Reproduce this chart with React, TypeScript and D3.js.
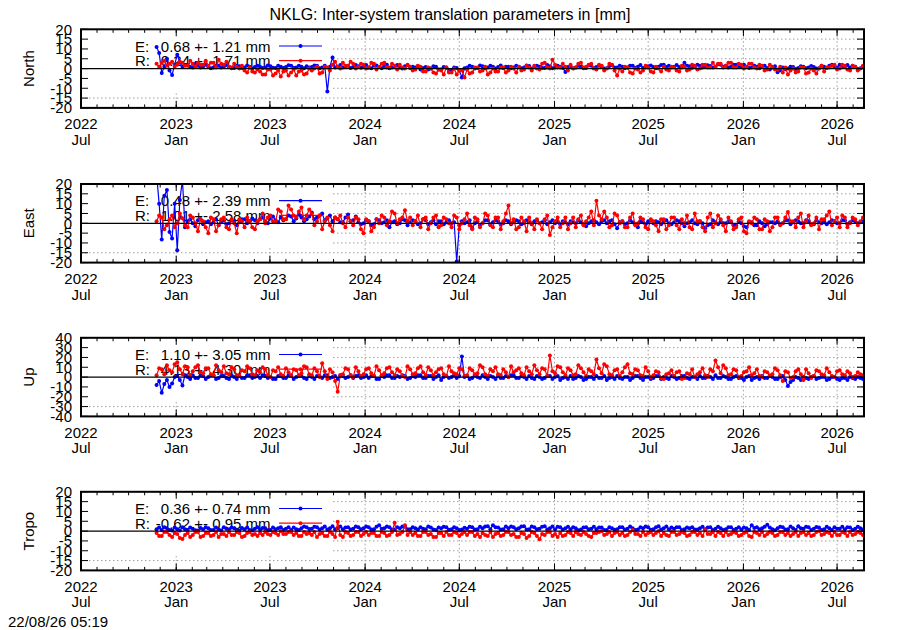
import React from 'react';
import * as d3 from 'd3';

// readings every 10 days from START, plus the readings 5 days later (…Mid)
const START = '2022-11-24';
const STEP_DAYS = 5;

const northE = [
  11, -2.3, 5, -3.2, 7, 1, 2, 0.5, 1.5, 1,
  1, 0.5, 1.5, 0.8, 1, 0.3, 1.2, 0.5, 1, 0.8,
  1, 0.5, 1.2, 0.3, 1, 0.8, 1.5, 0.5, 1, 1.2,
  0.8, 1.5, 0.5, -11.7, 5.7, 1, 0.5, 1.5, 0.8, 1.2,
  1, 0.5, 1.5, 0.8, 1.3, 0.2, 1, 0.5, 1.2, 0.3,
  0.5, -0.5, 0.8, 0, 1, -0.3, 0.5, -1, 0.3, -4.5,
  0.5, 1, 0.3, 1.2, 0.5, 1, 0.8, 0.2, 1, 0.5,
  1, 0.5, 1.3, 0.8, 1, 0.3, 1.2, 0.6, 1, -1.7,
  1.2, 0.5, 1, 0.3, 1.5, 0.8, 1, 0.2, 1.7, 0.6,
  1, 0.5, 1.5, 1, 0.3, 1.2, 0.8, 1, 2, 1.5,
  1, 0.8, 3, 1.2, 1, 1.5, 0.8, 1.3, 1, 2,
  1.5, 1, 2, 1.2, 1, 0.5, 1, 0.8, 0.3, 0.5,
  -1.9, 0.5, 0, 0.8, 0.3, 1, 0.5, 0.8, 0.2, 1,
  1.5, 1, 2, 1, 0.5, 1, 0.2,
];
const northEMid = [
  8, 1, -1, 2, 3, 2, 1, 2.5, 0.5, 2,
  0.2, 1.5, 0.5, 1.8, 0.2, 1.5, 0.3, 1.6, 0.2, 1.5,
  0.3, 1.6, 0.4, 1.5, 0.3, 1.7, 0.4, 1.5, 0.2, 0.5,
  1.6, 0.2, 1.4, 1, 0.5, 1.8, 1.2, 0.3, 1.8, 0.4,
  1.8, 0.2, 1.6, 0.2, 1.9, 0.6, 1.8, 0.1, 1.7, 0.9,
  1.2, 0.3, -0.5, 1.2, -0.5, 0.8, -1.2, 0.6, -1, 0.2,
  1.5, 0, 1.6, 0.2, 1.5, 0.1, 1.6, 1, 0.2, 1.4,
  0.2, 1.6, 0.1, 1.5, 0.3, 1.8, 0.2, 1.5, 0.3, 0.8,
  0.2, 1.5, 0.2, 1.6, 0.3, 1.5, 0.1, 1.3, 0.5, 1.4,
  0.2, 1.5, 0.4, 1.8, 0.5, 1.6, 0.2, 1.8, 0.8, 0.6,
  1.8, 0.5, 1.5, 0.4, 1.9, 0.6, 1.7, 0.5, 2.2, 1,
  0.5, 2, 0.8, 1.9, 0.3, 1.5, 0.2, 1.4, -0.5, 1.2,
  -0.8, -0.3, 1, -0.2, 1.2, 0.2, 1.3, 0, 1.4, 0.3,
  2, 0.5, 1.3, 1.8, 1.5, -0.2, 0.8,
];
const northR = [
  2.5, 3, 1.5, 3.5, 2, 3, 1.5, 2.5, 3, 2,
  1.5, 3, 4.5, 2, 1, 2.5, 0, -1, 0.5, -2,
  -1.5, -3, -0.5, -2.5, -4, -1, -2, -3.5, -1, -2.5,
  -1, 1, -2, 0.5, 2, 1, 3, 1.5, 2.5, 1,
  2, 0.5, 2.5, 1, 3, 0.5, 1.5, 2, 0, 1,
  -0.5, 1, -1.5, 0, -2.5, -1, 0.5, -2, -3, -1,
  -0.5, -2, 0.5, -1, -3, 0, -1.5, 0.5, -1, 0,
  1, -0.5, 0.5, 1.5, -0.5, 3, 0, 2, 0.5, 1,
  2, 0.5, 3, 1, 2.5, -0.5, 1.5, 0, 2, -3.5,
  -1.5, 0.5, -2.5, -0.5, -1, 0.5, -2, 0, 1, -1,
  0.5, -1.5, 1, -0.5, 1.5, 0, 2, 0.5, 1, 2.5,
  1.5, 3, 0.5, 2, 1, 2.5, 0, 1.5, -0.5, 1,
  -0.5, -2, -3, 0, -1.5, 0.5, -2, -1, 0, -1.5,
  0.5, 2, 0, 1.5, -1, 1, 0,
];
const northRMid = [
  1, 4, 2.5, 1, 3.5, 1.5, 4, 1, 2, 4,
  3, 0.5, 2.5, 3.5, 0.5, 1, 1.5, -2, -1.5, -0.5,
  -3, -0.5, -3.5, -1, -1.5, -3.5, -0.5, -1.5, -3, 0,
  0, -2.5, 1, -1, 3.5, 0, 1.5, 3.5, 0, 2.5,
  0, 3, -0.5, 2.5, 0.5, 2.5, -0.5, 0.5, 2, -1,
  1.5, -1.5, 0.5, -2, -0.5, -3, -2, 0, -1, -4.5,
  -2.5, 0.5, -1.5, 1, -2, -1.5, 0.5, -2, 1, -2,
  -1, 1.5, -1, 0, 2.5, 0.5, 4.5, 0.5, 2.5, -1,
  0, 2.5, 0.5, 2, 0, 2, -1, 2.5, -1, 0,
  1, -2, 0, -2, 1.5, -1.5, 1, -1.5, -0.5, 1,
  -1, 1.5, -1, 2, -0.5, 2, 0.5, 3, 2.5, 0.5,
  3, 0.5, 2.5, 0, 2.5, 0.5, 2, -1, 2, -0.5,
  1, 0.5, -1, -2, 0.5, -2.5, 0, -2.5, 1.5, 0.5,
  1.5, -0.5, 2, -0.5, 1.5, -1, 1.5,
];
const eastE = [
  25, -8.3, 17, -7.7, -13.7, 22, 1, 0, 1.5, -0.5,
  1, 0.5, -1, 1.5, 0, 1, 0.5, 2, 1, 1.5,
  2, 1, 2.5, 1.5, 3, 2, 3.5, 2.5, 3, 2,
  5.5, 3, 5, 2.5, 1, 2, 0.5, 4.5, 1.5, 0.5,
  0, 1, -0.5, 1.5, 0.5, -2, 1, 0, 1.5, 0.5,
  1, 0, 1.5, 0.5, -0.5, 1, 0.5, 0, -19.5, 1,
  0.5, -2.5, 1, 0, 1.5, 0.5, 1, 0, 1, 0.5,
  1, 0, 0.5, 1, 0, 1.5, 0.5, 0, -0.5, 0.5,
  1, 0, 0.5, -1.5, 1, 0.5, 1, 0, 1.5, -2.5,
  1, 0, 0.5, -2, 0.5, 1, 0, 0.5, 1, 0,
  0.5, 1, -1.5, 0.5, 0, 1, -2.5, -0.5, 0.5, 1,
  0, 0.5, -1, 0, -2, 0.5, -1, 0, -0.5, 0.5,
  1, 0, 1.5, 0.5, 1, 0, 1, -0.5, 0.5, 1,
  0.5, 1, 0, 1.5, 0.5, 1, 0.5,
];
const eastEMid = [
  10, 14, -4.4, 10, 11.8, -2, 2, -1.5, 2, 0.5,
  -0.5, 2, 0.5, -0.5, 1.5, -1, 2, 0, 2.5, 0,
  3, 0, 3.5, 0.5, 1.5, 4, 1, 4.5, 1, 3.5,
  2, 4, 1.5, 4, 3, 0.5, 3, 1, 3.5, -0.5,
  1.5, -1, 2, 0, 1.5, 0.5, -0.5, 2, -1, 1.5,
  -0.5, 2, -0.5, 1.5, 1, -0.5, 1.5, 0.5, -1, 0,
  1.5, 0, -1, 1.5, -0.5, 1.5, -0.5, 1.5, -0.5, 1.5,
  -0.5, 1.5, -0.5, 1.5, 0.5, -0.5, 1.5, 1, 1, -0.5,
  0.5, 1.5, -0.5, 0, 1.5, -0.5, 1.5, 1, -0.5, 0.5,
  -0.5, 1.5, -0.5, 1, -0.5, 1.5, 1, -0.5, 1.5, -0.5,
  1.5, 0, 0, 1.5, -0.5, 0, -1, 1.5, -0.5, 0,
  1, -1, 1, -1.5, 0.5, -1, 1, -1.5, 0.5, 0,
  -0.5, 1.5, -0.5, 1.5, 0, 1.5, -0.5, 1.5, 0, -0.5,
  1.5, 0, 1.5, -0.5, 1.5, 0, 1,
];
const eastR = [
  1, 3, -1, 4, 0, 2.6, -2, 3, -4, 1,
  -5, 2, -1, 3, -3, 0, 2, -2, 1, -3,
  2, 0, 4, 1, 6, 2, 7, 3, 8, 4,
  5, 1, -3, 3, -4, 2, 0, 3, -1, 2,
  -5, 1, -2, 0, 3, 1, 5, 2, 6.7, 3,
  1, -2, 3, 0, 4, -1, 2, -2, 3, 0,
  5, -3, 2, 0, 4, -2, 3, 1, 9, 2,
  -2, 1, 3, -3, 0, 2, -6, 1, -2, 3,
  0, -2, 4, 1, 6, 11.5, 2, 3, -1, 4,
  1, -2, 5, 0, 2, -3, 1, -4, 2, -1,
  3, -3, 0, -2, 5, 1, -4, 5, 0, 2,
  -4, 1, -2, 3, -5, 0, 2, -3, 1, -2,
  3, 0, 5.7, 1, 3, -2, 4, 0, -3, 2,
  6, 1, -2, 3, 0, 2, 1,
];
const eastRMid = [
  4, -3, 2, -2, 5, -1, 4, 0, 2, -2,
  3, -4, 2, -2, 2, -5, 1, 3, -2, 1,
  5, 3, 1, 7, 2, 9, 4, 6, 2, 7,
  -1, 4, 1, -1, 3, 4, -2, 1, 3, -3,
  2, -4, 2, 4, -1, 6, 0, 3, 1, -1,
  4, 2, -3, 3, -2, 3, 0, 4, -3, 2,
  -1, 3, -2, 5, -1, 3, -3, 5, 0, -3,
  3, -4, 0, 2, -3, 4, -2, 3, 0, -3,
  3, 2, -1, 3, -1, 4, 6, -2, 5, 0,
  -2, 3, -1, 3, -2, 2, -1, 2, -3, 3,
  -1, 2, 4, -3, 1, -2, 3, -2, 4, -1,
  3, -3, 2, -4, 1, 3, -3, 2, -4, 3,
  -1, 3, 1, -2, 5, 1, -1, 3, 2, 4,
  -1, 3, 4, -2, 3, -1, 3,
];
const upE = [
  -8, -16, -3, -6.5, 1, -8.5, 0, 2, -1, 1,
  0, 2, -1, 1, -2, 0, 1, -1, 2, 0,
  -1, 1, 0, -2, 1, -1, 2, 0, 1, -2,
  0, 1, -1, 2, 0, -2, 1, 0, -1, 2,
  0, -1, 1, -2, 0, 2, -1, 0, 1, -1,
  0, 2, -1, 1, 0, -3, 1, 0, -1, 21,
  1, -1, 0, 2, -2, 0, 1, -1, 0, 2,
  -1, 0, 1, -2, 0, -1, 1, 0, -3, 0,
  1, -1, 0, -2, 0, 1, -1, -3, 0, 1,
  -2, 0, -1, 1, -3, 0, -1, 1, 0, -2,
  0, -1, 1, -2, 0, 1, -1, 0, 2, -1,
  0, -2, 1, -1, 0, -3, 0, 1, -1, 0,
  -2, 1, -9, -3, -1, 0, -2, 1, -1, 0,
  -2, 0, -3, -1, 0, -2, -1,
];
const upEMid = [
  -4, -7, -10, 0, -3, 2, -2, -1, 2, -2,
  2, -2, 1, -1, 2, -2, -1, 2, -1, 1,
  2, -1, -2, 1, -1, 2, -2, 1, -1, 1,
  -2, 1, 2, -1, 1, 2, -1, 2, 1, -1,
  2, 1, -2, 1, 2, -1, 1, 2, -2, 1,
  2, -1, 1, -2, 2, 0, -1, 2, 1, 0,
  -2, 2, -1, 0, 1, -2, -1, 1, 2, -1,
  1, -2, -1, 1, -2, 1, -2, 1, -1, -2,
  -2, 1, -3, 0, -2, -1, 1, -1, -2, -1,
  0, -3, 1, -1, 0, -2, 1, -2, -1, 1,
  -2, 1, -1, 0, -2, -1, 1, -2, -1, 1,
  -2, 0, -1, -3, 1, -1, -2, -1, 1, -2,
  0, -3, -5, 0, -3, -1, 0, -2, 0, -3,
  0, -2, -1, -3, -1, 0, -2,
];
const upR = [
  2, 8, 12, 5, 15, 3, 10, 6, 12, 4,
  9, 2, 7, 11, 3, 8, 1, 6, 9, 2,
  5, 8, 0, 6, 3, 9, 1, 7, 4, 10,
  2, 6, 14, -2, 5, -15, 3, 8, 0, 6,
  3, 9, 1, 7, 4, 10, 2, 6, 0, 8,
  4, 11, 2, 7, 5, 9, 1, 6, 3, 8,
  2, 7, 4, 10, 1, 6, 3, 8, 0, 5,
  9, 2, 6, 12, 3, 8, 22, 4, 10, 2,
  7, 3, 9, 1, 6, 18, 4, 11, 2, 8,
  5, 13, 3, 7, 1, 6, 2, 5, -2, 4,
  1, 6, -1, 3, 0, 5, 2, 8, 17, 4,
  9, 3, 7, 1, 6, 2, 8, 0, 5, 3,
  7, -4, 5, 0, 8, -3, 4, 1, 6, 2,
  5, 0, 7, 2, 4, 1, 3,
];
const upRMid = [
  9, 3, 7, 13, 8, 11, 2, 10, 5, 9,
  3, 12, 5, 4, 10, 2, 7, 11, 3, 7,
  10, 2, 7, 10, 1, 5, 8, 2, 11, 3,
  9, 0, 6, 8, -4, 2, 9, 2, 10, 1,
  8, 4, 11, 2, 9, 5, 8, 1, 11, 3,
  9, 5, 10, 2, 8, 3, 11, 4, 9, 1,
  9, 3, 12, 3, 8, 10, 2, 5, 11, 7,
  4, 10, 3, 7, 9, 1, 6, 11, 5, 9,
  2, 12, 5, 8, 3, 9, 13, 3, 7, 1,
  10, 4, 8, 2, 10, 0, 6, -1, 3, 7,
  5, -2, 4, 8, 3, 9, 0, 6, 10, 12,
  2, 8, 0, 5, 10, 4, 1, 6, 2, 9,
  2, 6, -1, 6, 3, 8, -1, 7, 3, 9,
  1, 6, 3, 6, 0, 5, 2,
];
const tropoE = [
  1, 0.5, 1.5, 0.3, 1, 2, 0.5, 1.2, 0.3, 1,
  1.5, 0.5, 1, 2, 0.8, 1.5, 0.3, 1, 0.5, 1.2,
  0.8, 1.5, 0.5, 1, 2, 1.2, 0.5, 1, 1.5, 2,
  1.2, 2, 1.5, 0.8, 2.5, 1.5, 1, 2, 1.2, 2,
  1.5, 2, 1, 3, 1.5, 2, 0.8, 1.5, 2.2, 1,
  1.5, 2, 1, 1.8, 0.5, 1.5, 2, 1, 1.5, 0.8,
  1.2, 2, 1, 1.5, 2.5, 3, 1.8, 1, 1.5, 2,
  1.5, 2.5, 1, 2, 1.2, 2.5, 1.5, 1, 2, 1.5,
  1, 1.5, 0.8, 2, 1.2, 1, 1.8, 0.5, 1.5, 1,
  2, 1.2, 1.5, 0.8, 1.5, 2, 1, 2.5, 1.5, 1,
  1.2, 2, 1, 1.5, 0.8, 1.5, 1, 2, 1.2, 1.5,
  1, 2, 1.2, 0.8, 1.5, 3, 2, 1.5, 3.2, 1,
  1.5, 2, 1, 1.5, 2.5, 1.2, 2, 1.2, 1.8, 1,
  1.5, 2, 1.2, 1, 1.8, 1.2, 1.5,
];
const tropoEMid = [
  1.8, 2, 0.5, 1.8, 0.3, 1, 1.8, 0.4, 1.6, 2,
  0.6, 1.8, 0.3, 1.2, 1.8, 0.4, 1.6, 1.8, 0.3, 1.9,
  1.6, 0.4, 1.8, 1.5, 0.6, 2, 1.8, 0.6, 2.3, 1.1,
  2.2, 0.8, 2.4, 1.5, 1, 2.3, 1.8, 0.8, 2.4, 1,
  2.3, 0.8, 2.2, 1.2, 2.4, 0.8, 2, 2.4, 1, 2,
  0.8, 1.2, 2.3, 0.8, 1.8, 2.2, 0.7, 2, 0.6, 1.7,
  2.2, 0.8, 2.2, 2.4, 1, 2, 0.8, 2.3, 2.4, 1,
  2.3, 0.8, 2.4, 0.9, 2.2, 0.8, 2.3, 2.2, 0.8, 2.2,
  2, 0.4, 1.8, 0.9, 2.2, 1.8, 0.6, 2, 0.7, 2,
  0.8, 2.3, 0.6, 2, 2.4, 0.7, 2, 0.8, 2.3, 1.8,
  2, 0.6, 1.8, 2, 0.8, 2.2, 1.8, 0.6, 2.2, 0.6,
  1.9, 0.6, 2, 1.8, 0.6, 1.6, 1, 2.2, 1.8, 0.4,
  2.2, 0.8, 2.4, 0.5, 1.4, 2.2, 0.6, 2.1, 0.6, 2.2,
  0.6, 1.2, 2.2, 2, 0.6, 2.2, 0.8,
];
const tropoR = [
  -1, -2.5, -0.5, -3, -1.5, -4, -1, -2, -0.5, -2.5,
  -1, -2, -3, -1.5, -0.5, -2, -1, -2.5, -0.5, -1.5,
  -1, -0.5, -2, -1, 0, -1.5, -0.5, -1, -2.5, -1.5,
  -2, -3, -1, -2.5, -1.5, 4.7, -3, -1, -2, -0.5,
  -1.5, -2, -1, -2.5, -1, -2, 4.2, -1.5, 3, -0.5,
  -1, -2.5, -0.5, -1.5, -3, -1, -0.5, -2, -1, -1.5,
  -2, -0.5, -1.5, -1, -2.5, -3, -1, -2, -0.5, -1.5,
  -3, -1.5, -2.5, -1, -4.2, -2, -0.5, -1.5, -1, -2,
  -1, -0.5, -2, -1.5, -3, -1, 0, -1.5, -2.5, -0.5,
  -1, -2, 0.5, -1.5, -0.5, -1, -2, 0, -1, -2.5,
  -0.5, -1.5, -1, -2, -0.5, -1, 0.5, -1.5, -2.5, -1,
  -0.5, -1.5, -1, -2, -0.5, -3, -1, -0.5, -1.5, -1,
  -2, -0.5, -1, -1.5, -2.5, -0.5, -1, -2, 0, -1.5,
  -1, -0.5, -2, -1, -0.5, -1.5, -1,
];
const tropoRMid = [
  -2.5, -0.5, -2, -1, -3.5, -2, -3, -0.5, -3, -1,
  -2.5, -0.5, -1.5, -2.5, -2, -0.5, -3, -1, -2, -2.5,
  -2, -1.5, -0.5, -2, -1.5, -0.5, -2, -2.5, -0.5, -1,
  -0.5, -1.5, -2.5, -0.5, -3, -2, -0.5, -2.5, -0.5, -2.5,
  -0.5, -1, -2.5, -0.5, -2.5, -0.5, -2, -0.5, -2, -2,
  -2.5, -0.5, -2, -3, -1, -2.5, -2, -0.5, -2.5, -0.5,
  -0.5, -2.5, -3, -2, -0.5, -1.5, -2.5, -0.5, -2, -3,
  -1, -3.5, -0.5, -2.5, -1.5, -0.5, -2.5, -3, -2.5, -0.5,
  -2.5, -1.5, -0.5, -2.5, -1, -0.5, -2, -0.5, -1, -2,
  -2.5, -0.5, -1.5, -2.5, -2, -0.5, -1, -2.5, -2, -0.5,
  -2, -0.5, -2.5, -0.5, -2, -2.5, -1.5, -0.5, -0.5, -2.5,
  -2, -0.5, -2.5, -1, -2.5, -0.5, -2, -2.5, -0.5, -2.5,
  -0.5, -2, -2.5, -0.5, -1, -2, -2.5, -0.5, -2, -0.5,
  -2.5, -2, -0.5, -2.5, -2, -0.5, -2,
];

const panelNames = ['North', 'East', 'Up', 'Tropo'];
const panelLimits = [20, 20, 40, 20];
const panelTickSteps = [5, 5, 10, 5];
const legendE = ['0.68 +- 1.21 mm', '0.48 +- 2.39 mm', '1.10 +- 3.05 mm', '0.36 +- 0.74 mm'];
const legendR = ['0.24 +- 1.71 mm', '1.01 +- 2.58 mm', '4.13 +- 4.30 mm', '-0.62 +- 0.95 mm'];

const TITLE = 'NKLG: Inter-system translation parameters in [mm]';
const STAMP = '22/08/26 05:19';

// put the 10-day readings and the in-between readings back in time order
const weave = (a: number[], b: number[]) => d3.merge(a.map((v, i) => (b[i] === undefined ? [v] : [v, b[i]])));
const seriesE = [weave(northE, northEMid), weave(eastE, eastEMid), weave(upE, upEMid), weave(tropoE, tropoEMid)];
const seriesR = [weave(northR, northRMid), weave(eastR, eastRMid), weave(upR, upRMid), weave(tropoR, tropoRMid)];

const FONT = '"Liberation Sans", Arial, Helvetica, sans-serif';
const W = 900;
const H = 630;
const LEFT = 81;
const RIGHT = 864;
const PANEL_TOPS = [29.3, 184, 337.8, 491.8];
const PANEL_H = 78.6;
const KEY_RIGHT = 332;

const x = d3.scaleUtc()
  .domain([new Date('2022-07-01T00:00:00Z'), new Date('2026-08-22T00:00:00Z')])
  .range([LEFT, RIGHT]);

const startDate = new Date(START + 'T00:00:00Z');
const dateAt = (i: number) => d3.utcDay.offset(startDate, i * STEP_DAYS);

const majorTicks = x.ticks(d3.utcMonth.every(6)!);
const minorTicks = x.ticks(d3.utcMonth.every(1)!);
const fmtYear = d3.utcFormat('%Y');
const fmtMonth = d3.utcFormat('%b');

const BLUE = '#0000ff';
const RED = '#ff0000';
const GRID = '#a0a0a0';

function Series({ data, y, color }: { data: number[]; y: d3.ScaleLinear<number, number>; color: string }) {
  const line = d3.line<number>()
    .x((_, i) => x(dateAt(i)))
    .y(d => y(d));
  return (
    <g>
      <path d={line(data) || ''} fill="none" stroke={color} strokeWidth={1.2} />
      {data.map((d, i) => (
        <circle key={i} cx={x(dateAt(i))} cy={y(d)} r={2} fill={color} />
      ))}
    </g>
  );
}

function Panel({ idx }: { idx: number }) {
  const top = PANEL_TOPS[idx];
  const bottom = top + PANEL_H;
  const lim = panelLimits[idx];
  const y = d3.scaleLinear().domain([-lim, lim]).range([bottom, top]);
  const yTicks = d3.range(-lim, lim + 0.001, panelTickSteps[idx]);
  const keyBottom = y(-lim * 0.625);
  const clipId = `clip-${idx}`;
  const rowE = top + 16.7;
  const rowR = top + 31.4;

  return (
    <g>
      <defs>
        <clipPath id={clipId}>
          <rect x={LEFT} y={top} width={RIGHT - LEFT} height={PANEL_H} />
        </clipPath>
      </defs>

      {/* grid */}
      {yTicks.filter(t => Math.abs(t) < lim && t !== 0).map(t => (
        <line key={'gy' + t} x1={LEFT} x2={RIGHT} y1={y(t)} y2={y(t)}
          stroke={GRID} strokeWidth={1} strokeDasharray="1.5,2.5" />
      ))}
      {majorTicks.filter(d => x(d) > LEFT + 1 && x(d) < RIGHT - 1).map(d => (
        <line key={'gx' + d.getTime()} x1={x(d)} x2={x(d)} y1={top} y2={bottom}
          stroke={GRID} strokeWidth={1} strokeDasharray="1.5,2.5" />
      ))}

      {/* opaque key */}
      <rect x={LEFT + 1} y={top + 1} width={KEY_RIGHT - LEFT - 1} height={keyBottom - top - 1} fill="#fff" />
      {[legendE[idx], legendR[idx]].map((txt, k) => {
        const ry = k === 0 ? rowE : rowR;
        const col = k === 0 ? BLUE : RED;
        return (
          <g key={k}>
            <text x={135} y={ry + 5.5} fontSize={15}>{k === 0 ? 'E:' : 'R:'}</text>
            <text x={270.5} y={ry + 5.5} fontSize={15} textAnchor="end">{txt}</text>
            <line x1={279} x2={322} y1={ry} y2={ry} stroke={col} strokeWidth={1.2} />
            <circle cx={300.5} cy={ry} r={2} fill={col} />
          </g>
        );
      })}

      {/* data */}
      <g clipPath={`url(#${clipId})`}>
        <Series data={seriesE[idx]} y={y} color={BLUE} />
        <Series data={seriesR[idx]} y={y} color={RED} />
      </g>

      {/* zero axis */}
      <line x1={LEFT} x2={RIGHT} y1={y(0)} y2={y(0)} stroke="#000" strokeWidth={1.3} />

      {/* ticks */}
      {minorTicks.map(d => (
        <g key={'mt' + d.getTime()}>
          <line x1={x(d)} x2={x(d)} y1={bottom} y2={bottom - 3.5} stroke="#000" />
          <line x1={x(d)} x2={x(d)} y1={top} y2={top + 3.5} stroke="#000" />
        </g>
      ))}
      {majorTicks.map(d => (
        <g key={'Mt' + d.getTime()}>
          <line x1={x(d)} x2={x(d)} y1={bottom} y2={bottom - 7} stroke="#000" />
          <line x1={x(d)} x2={x(d)} y1={top} y2={top + 7} stroke="#000" />
          <text x={x(d)} y={bottom + 21.5} fontSize={15} textAnchor="middle">{fmtYear(d)}</text>
          <text x={x(d)} y={bottom + 37} fontSize={15} textAnchor="middle">{fmtMonth(d)}</text>
        </g>
      ))}
      {yTicks.map(t => (
        <g key={'yt' + t}>
          <line x1={LEFT} x2={LEFT + 7} y1={y(t)} y2={y(t)} stroke="#000" />
          <line x1={RIGHT} x2={RIGHT - 7} y1={y(t)} y2={y(t)} stroke="#000" />
          <text x={72} y={y(t) + 5.3} fontSize={15} textAnchor="end">{t}</text>
        </g>
      ))}

      <rect x={LEFT} y={top} width={RIGHT - LEFT} height={PANEL_H} fill="none" stroke="#000" strokeWidth={2} />

      <text transform={`translate(34,${(top + bottom) / 2}) rotate(-90)`} fontSize={15} textAnchor="middle">
        {panelNames[idx]}
      </text>
    </g>
  );
}

export default function App() {
  return (
    <svg width={W} height={H} style={{ position: 'absolute', left: 0, top: 0, background: '#fff' }}
      fontFamily={FONT} fill="#000">
      <rect width={W} height={H} fill="#fff" />
      <text x={450} y={20} fontSize={16} textAnchor="middle">{TITLE}</text>
      {panelNames.map((_, i) => <Panel key={i} idx={i} />)}
      <text x={8} y={627} fontSize={15}>{STAMP}</text>
    </svg>
  );
}
